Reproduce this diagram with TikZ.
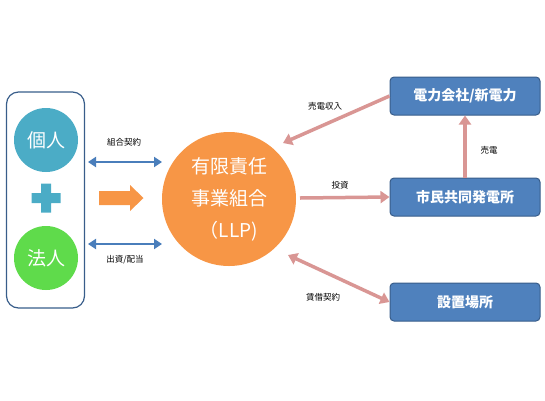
\documentclass[tikz,border=0pt]{standalone}
\usepackage{fontspec}
\setmainfont{Noto Sans CJK JP}
\usetikzlibrary{arrows.meta}
\definecolor{boxblue}{HTML}{4F81BD}
\definecolor{boxedge}{HTML}{385D8A}
\definecolor{teal}{HTML}{4BACC6}
\definecolor{lgreen}{HTML}{5FDB4B}
\definecolor{orng}{HTML}{F79646}
\definecolor{pinkar}{HTML}{D99694}
\definecolor{darrow}{HTML}{4A7EBB}
\tikzset{
  rbox/.style={draw=boxedge,line width=1pt,fill=boxblue,rounded corners=4pt,minimum width=150pt,minimum height=38pt,text=white,font=\fontsize{14}{16}\selectfont\bfseries,inner sep=0pt},
  person/.style={circle,minimum size=64pt,inner sep=0pt,text=white,font=\fontsize{19}{21}\selectfont},
  lbl/.style={font=\fontsize{8.5}{10}\selectfont,text=black},
  parrow/.style={draw=pinkar,line width=3.5pt,-{Triangle[length=9pt,width=12pt]}},
  pdarrow/.style={draw=pinkar,line width=3.5pt,{Triangle[length=9pt,width=12pt]}-{Triangle[length=9pt,width=12pt]}},
  barrow/.style={draw=darrow,line width=2.5pt,{Triangle[length=8pt,width=10pt]}-{Triangle[length=8pt,width=10pt]}},
}
\begin{document}
\begin{tikzpicture}[x=1pt,y=-1pt]
\useasboundingbox (0,0) rectangle (545,400);
\node[draw=boxedge,line width=1.2pt,rounded corners=12pt,minimum width=78pt,minimum height=216pt,inner sep=0pt] (grp) at (45.5,200) {};
\node[person,fill=teal] (kojin) at (46,140) {個人};
\node[person,fill=lgreen] (hojin) at (46,258) {法人};
\fill[teal] (31.5,193) rectangle (60.5,203) (41,183.5) rectangle (51,212.5);
\node[circle,fill=orng,minimum size=134pt,inner sep=0pt,text=white,font=\fontsize{19}{32}\selectfont,align=center] (llp) at (229,199) {有限責任\\事業組合\\（LLP)};
\fill[orng] (99,191) -- (130,191) -- (130,185) -- (143.5,198) -- (130,211) -- (130,205) -- (99,205) -- cycle;
\coordinate (b1l) at (88,162); \coordinate (b1r) at (162,162);
\coordinate (b2l) at (88,244); \coordinate (b2r) at (162,244);
\draw[barrow] (b1l) -- (b1r);
\draw[barrow] (b2l) -- (b2r);
\node[lbl] (l1) at (124,142) {組合契約};
\node[lbl] (l2) at (125,260) {出資/配当};
\node[rbox] (denryoku) at (465,96) {電力会社/新電力};
\node[rbox] (shimin) at (465,197) {市民共同発電所};
\node[rbox] (setchi) at (465,302) {設置場所};
\coordinate (llpa) at (283,143);
\coordinate (llpb) at (300,198);
\coordinate (llpc) at (288,255);
\draw[parrow] (denryoku.west) -- (llpa);
\draw[parrow] (llpb) -- (shimin.west);
\draw[parrow] (shimin.north) -- (denryoku.south);
\draw[pdarrow] (llpc) -- (setchi.west);
\node[lbl] (l3) at (325,106) {売電収入};
\node[lbl] (l4) at (340,185) {投資};
\node[lbl] (l5) at (489,150) {売電};
\node[lbl] (l6) at (323,297) {賃借契約};
\end{tikzpicture}
\end{document}
